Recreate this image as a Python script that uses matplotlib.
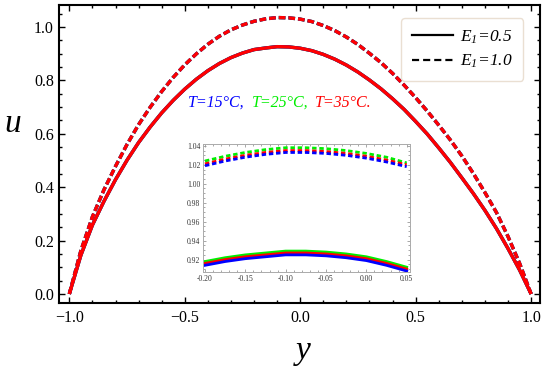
import numpy as np
import matplotlib
matplotlib.use("Agg")
import matplotlib.pyplot as plt
from matplotlib.ticker import MultipleLocator
from matplotlib.offsetbox import TextArea, HPacker, AnchoredOffsetbox

# ---- main panel: velocity profiles u(y) ----
y_main = [-1.00, -0.95, -0.90, -0.85, -0.80, -0.75, -0.70, -0.65, -0.60, -0.55,
          -0.50, -0.45, -0.40, -0.35, -0.30, -0.25, -0.20, -0.15, -0.10, -0.05,
          0.00, 0.05, 0.10, 0.15, 0.20, 0.25, 0.30, 0.35, 0.40, 0.45,
          0.50, 0.55, 0.60, 0.65, 0.70, 0.75, 0.80, 0.85, 0.90, 0.95, 1.00]
u_e05 = [0.000, 0.145, 0.258, 0.347, 0.428, 0.501, 0.567, 0.625, 0.678, 0.725,
         0.767, 0.804, 0.836, 0.863, 0.885, 0.902, 0.915, 0.921, 0.926, 0.925,
         0.920, 0.911, 0.897, 0.879, 0.857, 0.831, 0.801, 0.768, 0.731, 0.691,
         0.646, 0.599, 0.547, 0.493, 0.435, 0.376, 0.313, 0.245, 0.170, 0.090, 0.000]
u_e10 = [0.000, 0.162, 0.289, 0.390, 0.478, 0.560, 0.634, 0.699, 0.758, 0.811,
         0.858, 0.899, 0.935, 0.965, 0.989, 1.007, 1.021, 1.030, 1.035, 1.034,
         1.029, 1.020, 1.005, 0.986, 0.962, 0.934, 0.901, 0.866, 0.826, 0.782,
         0.735, 0.685, 0.632, 0.577, 0.517, 0.451, 0.380, 0.305, 0.215, 0.115, 0.000]

# ---- inset: zoom near the maximum, one curve per temperature ----
y_ins = [-0.200, -0.175, -0.150, -0.125, -0.100, -0.075, -0.050, -0.025, 0.000, 0.025, 0.050]
ins_e05 = {
    "15": [0.914, 0.918, 0.921, 0.923, 0.925, 0.925, 0.924, 0.922, 0.919, 0.914, 0.908],
    "25": [0.918, 0.922, 0.925, 0.927, 0.929, 0.929, 0.928, 0.926, 0.923, 0.918, 0.912],
    "35": [0.916, 0.920, 0.923, 0.925, 0.927, 0.927, 0.926, 0.924, 0.921, 0.916, 0.910],
}
ins_e10 = {
    "15": [1.019, 1.024, 1.028, 1.031, 1.033, 1.033, 1.032, 1.030, 1.027, 1.023, 1.018],
    "25": [1.024, 1.029, 1.033, 1.036, 1.038, 1.038, 1.037, 1.035, 1.032, 1.028, 1.022],
    "35": [1.021, 1.026, 1.030, 1.033, 1.035, 1.035, 1.034, 1.032, 1.029, 1.025, 1.020],
}
temps = ["25", "15", "35"]  # drawing order
colors = {"15": "#0000ff", "25": "#00ee00", "35": "#ff0000"}


def main():
    plt.rcParams["font.family"] = ["Liberation Serif", "DejaVu Serif"]
    # all math text in this figure is italic Times-like
    plt.rcParams["mathtext.fontset"] = "custom"
    plt.rcParams["mathtext.rm"] = "Liberation Serif:italic"
    plt.rcParams["mathtext.it"] = "Liberation Serif:italic"

    fig = plt.figure(figsize=(5.5, 3.7), dpi=100)
    ax = fig.add_axes([0.108, 0.181, 0.874, 0.8055])

    dash = (0, (2.0, 0.9))
    for t in temps:
        ax.plot(y_main, u_e05, color=colors[t], lw=2.4, solid_capstyle="butt")
        ax.plot(y_main, u_e10, color=colors[t], lw=2.4, linestyle=dash)

    ax.set_xlim(-1.043, 1.039)
    ax.set_ylim(-0.034, 1.082)
    ax.xaxis.set_major_locator(MultipleLocator(0.5))
    ax.xaxis.set_minor_locator(MultipleLocator(0.1))
    ax.yaxis.set_major_locator(MultipleLocator(0.2))
    ax.yaxis.set_minor_locator(MultipleLocator(0.05))
    ax.tick_params(which="both", direction="in", top=True, right=True, width=1.0,
                   labelsize=11.5)
    ax.tick_params(which="major", length=4.5)
    ax.tick_params(which="minor", length=2.3)
    ax.tick_params(axis="x", pad=5)
    ax.tick_params(axis="y", pad=4)
    for s in ax.spines.values():
        s.set_linewidth(1.5)

    ax.set_xlabel("y", fontsize=24, fontstyle="italic")
    ax.xaxis.label.set_va("center")
    ax.xaxis.set_label_coords(0.507, -0.16)
    ax.set_ylabel("u", fontsize=24, fontstyle="italic", rotation=0)
    ax.yaxis.label.set_va("center")
    ax.yaxis.label.set_ha("center")
    ax.yaxis.set_label_coords(-0.098, 0.60)

    # legend for the line styles
    h1, = ax.plot([], [], color="black", lw=1.6)
    h2, = ax.plot([], [], color="black", lw=1.6, linestyle=(0, (3.2, 1.8)))
    leg = ax.legend([h1, h2], [r"$E_1$=0.5", r"$E_1$=1.0"],
                    loc="upper right", bbox_to_anchor=(0.965, 0.956),
                    borderaxespad=0, prop={"size": 12.5, "style": "italic"},
                    handlelength=2.4, handletextpad=0.4, labelspacing=0.4,
                    borderpad=0.6, fancybox=True, framealpha=1)
    leg.get_frame().set_edgecolor("#eadfd2")
    leg.get_frame().set_linewidth(1.0)

    # coloured temperature annotation
    parts = [("T=15°C,", colors["15"]),
             ("T=25°C,", colors["25"]),
             ("T=35°C.", colors["35"])]
    boxes = [TextArea(s, textprops=dict(color=c, fontsize=11.5, fontstyle="italic"))
             for s, c in parts]
    pack = HPacker(children=boxes, align="baseline", pad=0, sep=5)
    anch = AnchoredOffsetbox(loc="center", child=pack, frameon=False,
                             bbox_to_anchor=(0.459, 0.672),
                             bbox_transform=ax.transAxes, borderpad=0)
    ax.add_artist(anch)

    # inset
    axi = fig.add_axes([0.369, 0.265, 0.376, 0.346])
    for t in ["25", "35", "15"]:
        axi.plot(y_ins, ins_e05[t], color=colors[t], lw=2.0)
        axi.plot(y_ins, ins_e10[t], color=colors[t], lw=2.0, linestyle=(0, (1.6, 1.0)))
    axi.set_xlim(-0.2025, 0.0538)
    axi.set_ylim(0.907, 1.042)
    axi.xaxis.set_major_locator(MultipleLocator(0.05))
    axi.xaxis.set_minor_locator(MultipleLocator(0.01))
    axi.yaxis.set_major_locator(MultipleLocator(0.02))
    axi.yaxis.set_minor_locator(MultipleLocator(0.005))
    axi.xaxis.set_major_formatter(plt.FormatStrFormatter("%.2f"))
    axi.yaxis.set_major_formatter(plt.FormatStrFormatter("%.2f"))
    axi.tick_params(which="both", direction="in", top=True, right=True,
                    color="#999999", width=0.6, labelsize=5.5, labelcolor="#333333", pad=2)
    axi.tick_params(which="major", length=2.5)
    axi.tick_params(which="minor", length=1.3)
    for s in axi.spines.values():
        s.set_linewidth(0.7)
        s.set_color("#aaaaaa")

    fig.savefig("out.png", dpi=100)


if __name__ == "__main__":
    main()
